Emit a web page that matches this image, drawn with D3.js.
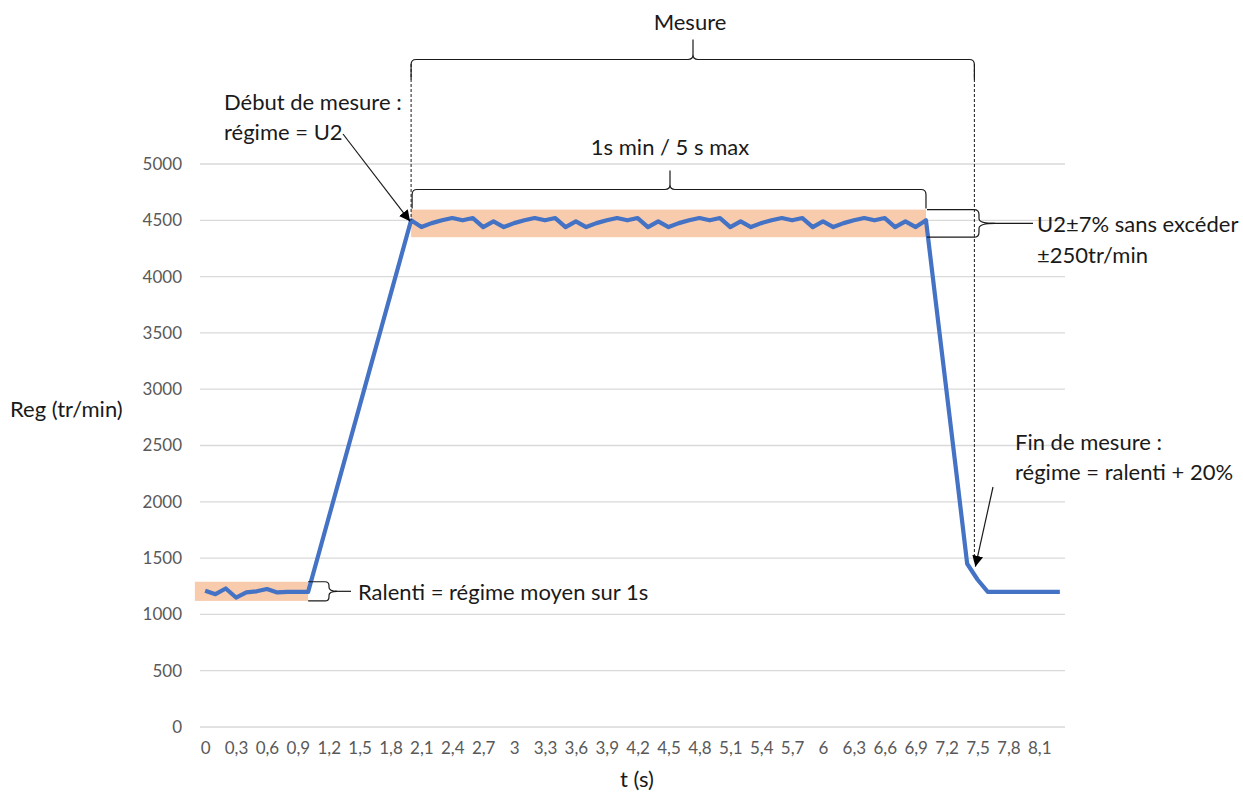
<!DOCTYPE html>
<html><head><meta charset="utf-8">
<script src="https://cdn.jsdelivr.net/npm/d3@7"></script>
<style>body{margin:0;background:#fff}svg{display:block}text{font-family:Lato,"Open Sans",sans-serif}</style>
</head><body>
<svg id="c" width="1243" height="793"></svg>
<script>
// ---- data ----
const times = [0,0.1,0.2,0.3,0.4,0.5,0.6,0.7,0.8,0.9,1.0,1.1,1.2,1.3,1.4,1.5,1.6,1.7,1.8,1.9,
2.0,2.1,2.2,2.3,2.4,2.5,2.6,2.7,2.8,2.9,3.0,3.1,3.2,3.3,3.4,3.5,3.6,3.7,3.8,3.9,
4.0,4.1,4.2,4.3,4.4,4.5,4.6,4.7,4.8,4.9,5.0,5.1,5.2,5.3,5.4,5.5,5.6,5.7,5.8,5.9,
6.0,6.1,6.2,6.3,6.4,6.5,6.6,6.7,6.8,6.9,7.0,7.1,7.2,7.3,7.4,7.5,7.6,7.7,7.8,7.9,
8.0,8.1,8.2,8.3];
const regime = [1210,1180,1230,1150,1195,1205,1225,1195,1200,1200,1200,
1530,1860,2190,2520,2850,3180,3510,3840,4170,
4500,
4440,4475,4500,4520,4500,4520,4440,4490,
4440,4475,4500,4520,4500,4520,4440,4490,
4440,4475,4500,4520,4500,4520,4440,4490,
4440,4475,4500,4520,4500,4520,4440,4490,
4440,4475,4500,4520,4500,4520,4440,4490,
4440,4475,4500,4520,4500,4520,4440,4490,
4440,4500,
3740,2980,2220,1450,1310,
1200,1200,1200,1200,1200,1200,1200,1200];
const xTicks = [0,0.3,0.6,0.9,1.2,1.5,1.8,2.1,2.4,2.7,3,3.3,3.6,3.9,4.2,4.5,4.8,5.1,5.4,5.7,6,6.3,6.6,6.9,7.2,7.5,7.8,8.1];
const xTickLabels = ["0","0,3","0,6","0,9","1,2","1,5","1,8","2,1","2,4","2,7","3","3,3","3,6","3,9","4,2","4,5","4,8","5,1","5,4","5,7","6","6,3","6,6","6,9","7,2","7,5","7,8","8,1"];
const yTicks = [0,500,1000,1500,2000,2500,3000,3500,4000,4500,5000];
const bandLowT = [-0.1, 1.0], bandLowV = [1120, 1290];
const bandHighT = [2.0, 7.0], bandHighV = [4350, 4595];
const measureT = [2.0, 7.47];

// ---- scales ----
const svg = d3.select("#c");
const L = 200, R = 1065, T = 164, B = 727;
const x = d3.scaleLinear().domain([-0.05, 8.35]).range([L, R]);
const y = d3.scaleLinear().domain([0, 5000]).range([B, T]);

// gridlines
svg.append("g").selectAll("line").data(yTicks).join("line")
  .attr("x1", L).attr("x2", R).attr("y1", d => y(d)).attr("y2", d => y(d))
  .attr("stroke", "#d9d9d9").attr("stroke-width", 1.3);

// y axis labels
const ya = svg.append("g").attr("transform", `translate(${L},0)`)
  .call(d3.axisLeft(y).tickValues(yTicks).tickSize(0).tickPadding(18).tickFormat(d3.format("d")));
ya.select(".domain").remove();
ya.selectAll("text").attr("font-size", 17).attr("fill", "#595959").style("font-family", "Lato");

// x axis labels
const xa = svg.append("g").attr("transform", `translate(0,${B})`)
  .call(d3.axisBottom(x).tickValues(xTicks).tickSize(0).tickPadding(15).tickFormat((d, i) => xTickLabels[i]));
xa.select(".domain").remove();
xa.selectAll("text").attr("font-size", 17).attr("fill", "#595959").style("font-family", "Lato");

// bands
const bandCol = "#f8cbad";
svg.append("rect").attr("x", x(bandLowT[0])).attr("width", x(bandLowT[1]) - x(bandLowT[0]))
  .attr("y", y(bandLowV[1])).attr("height", y(bandLowV[0]) - y(bandLowV[1])).attr("fill", bandCol);
svg.append("rect").attr("x", x(bandHighT[0])).attr("width", x(bandHighT[1]) - x(bandHighT[0]))
  .attr("y", y(bandHighV[1])).attr("height", y(bandHighV[0]) - y(bandHighV[1])).attr("fill", bandCol);

// series line
const line = d3.line().x((d, i) => x(times[i])).y(d => y(d));
svg.append("path").datum(regime).attr("d", line).attr("fill", "none")
  .attr("stroke", "#4472c4").attr("stroke-width", 4.2).attr("stroke-linejoin", "round");

// ---- annotations ----
const defs = svg.append("defs");
defs.append("marker").attr("id", "ah").attr("viewBox", "0 0 10 10").attr("refX", 10).attr("refY", 5)
  .attr("markerWidth", 11).attr("markerHeight", 11).attr("markerUnits", "userSpaceOnUse").attr("orient", "auto")
  .append("path").attr("d", "M0,0 L10,5 L0,10 Z").attr("fill", "#000");

const ink = "#1a1a1a";
function hBrace(x1, x2, xt, ym, h, r) {
  return `M${x1},${ym + h} L${x1},${ym + r} Q${x1},${ym} ${x1 + r},${ym} L${xt - r},${ym} Q${xt},${ym} ${xt},${ym - r} L${xt},${ym - h}` +
    ` L${xt},${ym - r} Q${xt},${ym} ${xt + r},${ym} L${x2 - r},${ym} Q${x2},${ym} ${x2},${ym + r} L${x2},${ym + h}`;
}
function vBrace(xe, xm, xtip, y1, y2, yt, r) {
  return `M${xe},${y1} L${xm - r},${y1} Q${xm},${y1} ${xm},${y1 + r} L${xm},${yt - r} Q${xm},${yt} ${xtip},${yt}` +
    ` Q${xm},${yt} ${xm},${yt + r} L${xm},${y2 - r} Q${xm},${y2} ${xm - r},${y2} L${xe},${y2}`;
}
const gA = svg.append("g").attr("fill", "none").attr("stroke", ink).attr("stroke-width", 1.2);

// dashed measurement limits
const xm0 = x(measureT[0]), xm1 = x(measureT[1]);
gA.append("line").attr("x1", xm0).attr("x2", xm0).attr("y1", 64).attr("y2", y(4500))
  .attr("stroke-dasharray", "3,2").attr("stroke-width", 1);
gA.append("line").attr("x1", xm1).attr("x2", xm1).attr("y1", 64).attr("y2", y(1470))
  .attr("stroke-dasharray", "3,2").attr("stroke-width", 1);

// braces
gA.append("path").attr("d", hBrace(xm0, xm1, 693, 59.5, 20, 5));
gA.append("path").attr("d", hBrace(x(bandHighT[0]) + 1, x(bandHighT[1]), 670, 189.5, 19, 5));
const yb1 = y(bandHighV[1]), yb0 = y(bandHighV[0]);
gA.append("path").attr("d", vBrace(x(bandHighT[1]) + 1, 979, 995, yb1, yb0, (yb1 + yb0) / 2, 5));
gA.append("line").attr("x1", 990).attr("x2", 1033).attr("y1", (yb1 + yb0) / 2).attr("y2", (yb1 + yb0) / 2);
const yl1 = y(bandLowV[1]), yl0 = y(bandLowV[0]);
gA.append("path").attr("d", vBrace(x(bandLowT[1]), 329, 337, yl1, yl0, (yl1 + yl0) / 2, 4));
gA.append("line").attr("x1", 335).attr("x2", 351).attr("y1", (yl1 + yl0) / 2).attr("y2", (yl1 + yl0) / 2);

// arrows
gA.append("line").attr("x1", 343).attr("y1", 134).attr("x2", x(2.0) - 1).attr("y2", y(4500) + 1)
  .attr("marker-end", "url(#ah)");
gA.append("line").attr("x1", 993).attr("y1", 487).attr("x2", xm1 + 1).attr("y2", y(1450) + 3)
  .attr("marker-end", "url(#ah)");

// texts
const gT = svg.append("g").attr("fill", ink).attr("font-size", 22).attr("dominant-baseline", "central");
function txt(s, tx, ty, anchor) { gT.append("text").attr("x", tx).attr("y", ty).attr("text-anchor", anchor || "start").text(s); }
txt("Mesure", 690, 21, "middle");
txt("1s min / 5 s max", 670, 146, "middle");
txt("Début de mesure :", 224, 101);
txt("régime = U2", 224, 131);
txt("U2±7% sans excéder", 1037, 223);
txt("±250tr/min", 1037, 254);
txt("Ralenti = régime moyen sur 1s", 358, 591);
txt("Fin de mesure :", 1015, 441);
txt("régime = ralenti + 20%", 1015, 471);
txt("Reg (tr/min)", 10, 408);
txt("t (s)", 637, 778, "middle");
</script>
</body></html>
